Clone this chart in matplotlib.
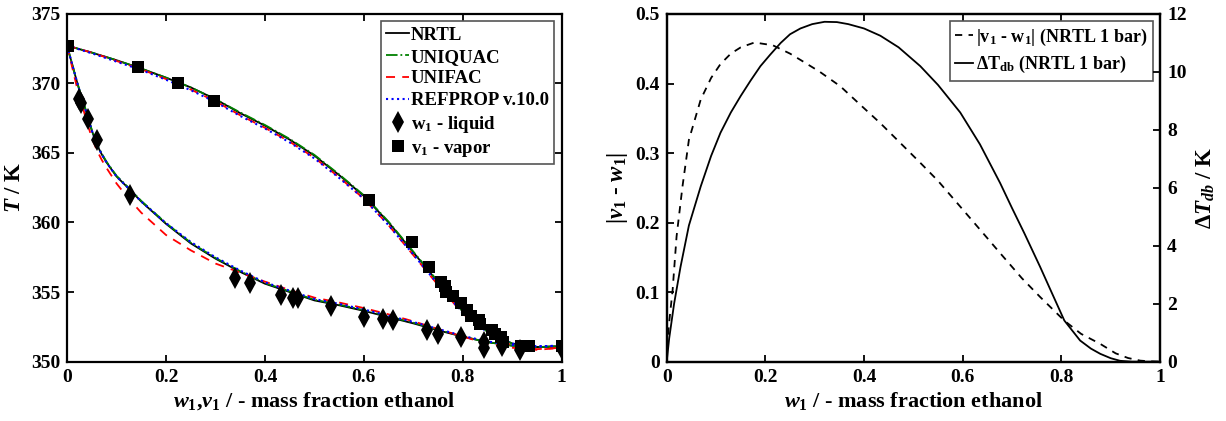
import numpy as np
import matplotlib
matplotlib.use('Agg')
import matplotlib.pyplot as plt

plt.rcParams['font.family'] = 'Liberation Serif'
plt.rcParams['font.weight'] = 'bold'
plt.rcParams['axes.labelweight'] = 'bold'
plt.rcParams['mathtext.fontset'] = 'custom'
plt.rcParams['mathtext.rm'] = 'Liberation Serif:bold'
plt.rcParams['mathtext.it'] = 'Liberation Serif:italic:bold'
plt.rcParams['mathtext.bf'] = 'Liberation Serif:bold'
plt.rcParams['mathtext.default'] = 'regular'

# ---- left panel: T-w-v diagram
x_bub = [0, 0.01, 0.02, 0.03, 0.04, 0.05, 0.06, 0.07, 0.08, 0.1, 0.12, 0.15, 0.2, 0.25, 0.3, 0.35,
         0.4, 0.45, 0.5, 0.55, 0.6, 0.65, 0.7, 0.75, 0.8, 0.85, 0.9, 0.95, 1.0]
bub_nrtl = [372.7, 371.4, 370.1, 368.9, 367.8, 366.6, 365.6, 364.9, 364.3, 363.3, 362.6, 361.5, 359.9,
            358.5, 357.4, 356.45, 355.6, 355.0, 354.4, 354.05, 353.65, 353.2, 352.75, 352.25, 351.8,
            351.4, 351.15, 351.05, 351.1]
bub_uniquac = [372.7, 371.4, 370.1, 368.95, 367.85, 366.65, 365.65, 364.95, 364.35, 363.35, 362.65, 361.55, 359.95,
               358.55, 357.45, 356.5, 355.65, 355.05, 354.45, 354.1, 353.7, 353.25, 352.8, 352.3, 351.8,
               351.4, 351.15, 351.05, 351.1]
bub_unifac = [372.7, 371.2, 369.7, 368.5, 367.2, 366.1, 365.2, 364.5, 363.9, 362.8, 361.9, 360.7, 359.1,
              358.0, 357.05, 356.4, 355.75, 355.15, 354.6, 354.25, 353.85, 353.4, 352.9, 352.35, 351.8,
              351.3, 351.0, 350.85, 351.0]
bub_refprop = [372.7, 371.4, 370.1, 368.9, 367.8, 366.6, 365.6, 364.9, 364.3, 363.3, 362.6, 361.5, 359.95,
               358.6, 357.5, 356.55, 355.7, 355.1, 354.5, 354.15, 353.75, 353.3, 352.85, 352.35, 351.85,
               351.45, 351.2, 351.1, 351.15]

x_dew = [0, 0.05, 0.1, 0.15, 0.2, 0.25, 0.3, 0.35, 0.4, 0.45, 0.5, 0.55, 0.6, 0.65, 0.7, 0.75,
         0.8, 0.85, 0.9, 0.95, 1.0]
dew_nrtl = [372.7, 372.2, 371.65, 371.05, 370.4, 369.7, 368.85, 367.85, 366.95, 365.95, 364.8,
            363.4, 361.9, 360.0, 357.85, 355.7, 353.6, 352.15, 351.3, 351.05, 351.1]
dew_uniquac = [372.7, 372.2, 371.65, 371.05, 370.4, 369.7, 368.85, 367.9, 367.0, 366.0, 364.85,
               363.45, 361.95, 360.05, 357.9, 355.75, 353.6, 352.15, 351.3, 351.05, 351.1]
dew_unifac = [372.7, 372.2, 371.6, 371.0, 370.3, 369.55, 368.7, 367.7, 366.8, 365.8, 364.65,
              363.25, 361.7, 359.8, 357.65, 355.5, 353.45, 352.0, 351.15, 350.9, 351.0]
dew_refprop = [372.7, 372.15, 371.55, 370.95, 370.25, 369.5, 368.65, 367.65, 366.75, 365.75, 364.6,
               363.2, 361.7, 359.8, 357.7, 355.55, 353.5, 352.1, 351.3, 351.1, 351.15]

w_exp = [0.025, 0.028, 0.043, 0.06, 0.127, 0.339, 0.369, 0.433, 0.457, 0.466, 0.534, 0.6, 0.639,
         0.658, 0.728, 0.749, 0.796, 0.842, 0.842, 0.88, 0.915, 1.0]
Tw_exp = [368.85, 368.6, 367.4, 365.9, 362.0, 356.0, 355.65, 354.8, 354.55, 354.6, 354.0, 353.2, 353.1,
          353.0, 352.3, 352.0, 351.75, 351.4, 351.0, 351.1, 350.85, 350.9]
v_exp = [0.002, 0.143, 0.225, 0.297, 0.61, 0.698, 0.731, 0.756, 0.764, 0.765, 0.78, 0.797, 0.808,
         0.817, 0.832, 0.835, 0.858, 0.865, 0.877, 0.882, 0.918, 0.933, 1.0]
Tv_exp = [372.7, 371.2, 370.0, 368.7, 361.6, 358.6, 356.8, 355.7, 355.4, 355.0, 354.7, 354.2, 353.7,
          353.3, 353.0, 352.7, 352.3, 352.0, 351.75, 351.4, 351.1, 351.1, 351.1]

# ---- right panel
w_dv = [0, 0.004, 0.012, 0.02, 0.032, 0.045, 0.069, 0.09, 0.109, 0.13, 0.15, 0.178, 0.215, 0.25, 0.271,
        0.31, 0.352, 0.39, 0.433, 0.47, 0.514, 0.55, 0.595, 0.635, 0.676, 0.72, 0.757, 0.806, 0.84,
        0.879, 0.91, 0.935, 0.96, 0.98, 1.0]
dv = [0, 0.05, 0.103, 0.18, 0.252, 0.319, 0.377, 0.408, 0.428, 0.443, 0.452, 0.459, 0.455, 0.443, 0.434,
      0.417, 0.396, 0.371, 0.343, 0.317, 0.286, 0.26, 0.223, 0.19, 0.156, 0.12, 0.093, 0.059, 0.04,
      0.0255, 0.012, 0.0053, 0.0015, 0.0005, 0.0]
w_dT = [0, 0.005, 0.015, 0.028, 0.045, 0.069, 0.09, 0.109, 0.13, 0.15, 0.17, 0.19, 0.21, 0.231, 0.25,
        0.271, 0.295, 0.32, 0.345, 0.368, 0.4, 0.433, 0.47, 0.514, 0.55, 0.595, 0.635, 0.676, 0.7,
        0.725, 0.757, 0.78, 0.806, 0.838, 0.86, 0.879, 0.9, 0.919, 0.943, 1.0]
dT = [0, 0.8, 2.0, 3.27, 4.7, 6.05, 7.1, 7.9, 8.6, 9.17, 9.7, 10.2, 10.6, 11.0, 11.3,
      11.5, 11.65, 11.73, 11.72, 11.65, 11.5, 11.25, 10.85, 10.2, 9.55, 8.6, 7.5, 6.16, 5.3,
      4.43, 3.27, 2.4, 1.42, 0.73, 0.45, 0.27, 0.12, 0.03, 0.0, 0.0]

ticks01 = [0, 0.2, 0.4, 0.6, 0.8, 1]
ticks01_lbl = ['0', '0.2', '0.4', '0.6', '0.8', '1']

fig = plt.figure(figsize=(12.26, 4.21), dpi=100)
ax1 = fig.add_axes([0.0547, 0.1409, 0.4035, 0.8268])
ax2 = fig.add_axes([0.5438, 0.1409, 0.4024, 0.8259])

ax1.plot(x_bub, bub_nrtl, 'k-', lw=1.3, label='NRTL')
ax1.plot(x_dew, dew_nrtl, 'k-', lw=1.3)
ax1.plot(x_bub, bub_uniquac, color='#008000', ls='-.', lw=1.3, label='UNIQUAC')
ax1.plot(x_dew, dew_uniquac, color='#008000', ls='-.', lw=1.3)
ax1.plot(x_bub, bub_unifac, color='red', ls=(0, (5, 4)), lw=1.3, label='UNIFAC')
ax1.plot(x_dew, dew_unifac, color='red', ls=(0, (5, 4)), lw=1.3)
ax1.plot(x_bub, bub_refprop, color='blue', ls=':', lw=1.5, label='REFPROP v.10.0')
ax1.plot(x_dew, dew_refprop, color='blue', ls=':', lw=1.5)
ax1.plot(w_exp, Tw_exp, 'kd', ms=11, mew=0, label='$w_1$ - liquid')
ax1.plot(v_exp, Tv_exp, 'ks', ms=8.5, mew=0, label='$v_1$ - vapor')

ax1.set_xlim(0, 1)
ax1.set_ylim(350, 375)
ax1.set_xticks(ticks01)
ax1.set_xticklabels(ticks01_lbl)
ax1.set_yticks([350, 355, 360, 365, 370, 375])
ax1.tick_params(direction='in', top=True, right=True, labelsize=14, length=5, width=1.3, pad=5)
ax1.set_xlabel(r'$\mathit{w_1}$,$\mathit{v_1}$ / - mass fraction ethanol', fontsize=16, labelpad=3)
ax1.set_ylabel(r'$\mathit{T}$ / K', fontsize=16.5, labelpad=4)
for s in ax1.spines.values():
    s.set_linewidth(1.6)
leg1 = ax1.legend(loc='upper right', fontsize=13.5, handlelength=1.2, handletextpad=0.1,
                  borderpad=0.3, labelspacing=0.25, fancybox=False, edgecolor='#555555',
                  framealpha=1, borderaxespad=0.4)
leg1.get_frame().set_linewidth(1.2)

ax2.plot(w_dv, dv, 'k--', lw=1.3, dashes=(4, 3.5), label=r'$\mathregular{|v_1}$ - $\mathregular{w_1|}$ (NRTL 1 bar)')
ax3 = ax2.twinx()
ax3.plot(w_dT, dT, 'k-', lw=1.3)
ax2.plot([], [], 'k-', lw=1.3, label=r'$\mathregular{\Delta T_{db}}$ (NRTL 1 bar)')

ax2.set_xlim(0, 1)
ax2.set_ylim(0, 0.5)
ax3.set_ylim(0, 12)
ax2.set_xticks(ticks01)
ax2.set_xticklabels(ticks01_lbl)
ax2.set_yticks([0, 0.1, 0.2, 0.3, 0.4, 0.5])
ax2.set_yticklabels(['0', '0.1', '0.2', '0.3', '0.4', '0.5'])
ax3.set_yticks([0, 2, 4, 6, 8, 10, 12])
ax2.tick_params(direction='in', top=True, labelsize=14, length=5, width=1.3, pad=5)
ax3.tick_params(direction='in', labelsize=14, length=5, width=1.3, pad=5)
ax2.set_xlabel(r'$\mathit{w_1}$ / - mass fraction ethanol', fontsize=16, labelpad=3)
ax2.set_ylabel(r'|$\mathit{v_1}$ - $\mathit{w_1}$|', fontsize=16.5, labelpad=4)
ax3.set_ylabel(r'$\Delta\mathit{T_{db}}$ / K', fontsize=16.5, labelpad=6)
for s in list(ax2.spines.values()) + list(ax3.spines.values()):
    s.set_linewidth(1.6)
leg2 = ax2.legend(loc='upper right', fontsize=13, handlelength=1.0, handletextpad=0.15,
                  borderpad=0.3, labelspacing=0.35, fancybox=False, edgecolor='#555555',
                  framealpha=1, borderaxespad=0.4)
leg2.get_frame().set_linewidth(1.2)

fig.savefig('out.png', dpi=100)
